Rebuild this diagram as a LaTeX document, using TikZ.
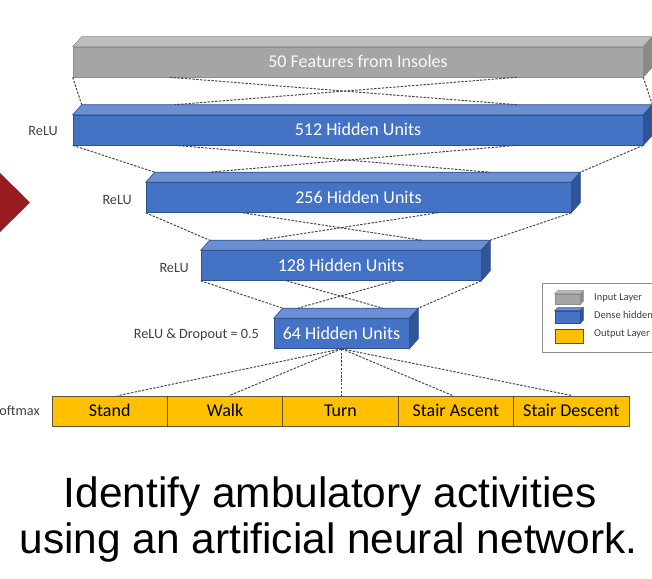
\documentclass[tikz,border=0pt]{standalone}
\usepackage{fontspec}
\setmainfont{Carlito}
\newfontfamily\capfont{Liberation Sans}
\usetikzlibrary{calc}
\definecolor{blueF}{HTML}{4472C4}
\definecolor{blueT}{HTML}{6B8FD2}
\definecolor{blueS}{HTML}{2F5597}
\definecolor{blueB}{HTML}{2F528F}
\definecolor{grayF}{HTML}{A5A5A5}
\definecolor{grayT}{HTML}{BEBEBE}
\definecolor{grayS}{HTML}{8A8A8A}
\definecolor{grayB}{HTML}{8C8C8C}
\definecolor{yelF}{HTML}{FFC000}
\definecolor{yelB}{HTML}{5E5234}
\definecolor{lbl}{HTML}{404040}
\definecolor{dline}{HTML}{4A4A4A}
\definecolor{darkred}{HTML}{971B1F}
\newcommand\cubefaces[4]{%
  \filldraw[fill=#2T, draw=#2B, line width=0.6pt] (#1.north west) -- ++(#3,-#4) -- ($(#1.north east)+(#3,-#4)$) -- (#1.north east) -- cycle;
  \filldraw[fill=#2S, draw=#2B, line width=0.6pt] (#1.north east) -- ++(#3,-#4) -- ($(#1.south east)+(#3,-#4)$) -- (#1.south east) -- cycle;
  \coordinate (#1-tl) at ($(#1.north west)+(#3,-#4)$);
  \coordinate (#1-tr) at ($(#1.north east)+(#3,-#4)$);
}
\begin{document}
\begin{tikzpicture}[x=1pt,y=-1pt,
  front/.style={draw=#1B, fill=#1F, line width=0.6pt, minimum height=30pt, inner sep=0pt,
    font=\fontsize{18}{20}\selectfont, text height=11.6pt, text depth=0pt},
  outcell/.style={draw=yelB, fill=yelF, line width=0.7pt, minimum height=30pt, minimum width=115.4pt,
    inner sep=0pt, font=\fontsize{18}{20}\selectfont, text=black, text height=11.6pt, text depth=0pt},
  lab/.style={font=\fontsize{14.2}{16}\selectfont, text=lbl, inner sep=0pt},
  legtxt/.style={font=\fontsize{10.5}{12}\selectfont, text=lbl, inner sep=0pt, anchor=west},
  dl/.style={draw=dline, line width=1pt, dash pattern=on 2.4pt off 1.4pt},
  captext/.style={font=\capfont\fontsize{42.4}{47}\selectfont, text=black, inner sep=0pt}]
\useasboundingbox (0,0) rectangle (652,578);
\clip (0,0) rectangle (652,578);
\fill[white] (0,0) rectangle (652,578);

% red arrow head on the left
\fill[darkred] (-3,170) -- (30,202.5) -- (-3,235) -- cycle;

% layers
\node[front=gray, minimum width=570pt, text=white!95!gray] (in) at (358,62) {50 Features from Insoles};
\cubefaces{in}{gray}{9}{10}
\node[front=blue, minimum width=570pt, text=white] (h1) at (358,130) {512 Hidden Units};
\cubefaces{h1}{blue}{9}{10}
\node[front=blue, minimum width=425pt, text=white] (h2) at (358.5,197.5) {256 Hidden Units};
\cubefaces{h2}{blue}{9}{10}
\node[front=blue, minimum width=280pt, text=white] (h3) at (341,265.5) {128 Hidden Units};
\cubefaces{h3}{blue}{9}{10}
\node[front=blue, minimum width=135pt, text=white] (h4) at (341.5,333.5) {64 Hidden Units};
\cubefaces{h4}{blue}{9}{10}

% output layer
\node[outcell] (o1) at (109.7,411) {Stand};
\node[outcell] (o2) at (225.1,411) {Walk};
\node[outcell] (o3) at (340.5,411) {Turn};
\node[outcell] (o4) at (455.9,411) {Stair Ascent};
\node[outcell] (o5) at (571.3,411) {Stair Descent};

% labels
\node[lab, anchor=base east] (l1) at (58,135.6) {ReLU};
\node[lab, anchor=base east] (l2) at (132,204.6) {ReLU};
\node[lab, anchor=base east] (l3) at (189,272.6) {ReLU};
\node[lab, anchor=base east] (l4) at (259,338.6) {ReLU \& Dropout = 0.5};
\node[lab, anchor=base east] (l5) at (40,415.6) {Softmax};

% dashed connections: input -> 512
\draw[dl] (in.south west) -- (h1-tl);
\draw[dl] (in.south east) -- (h1-tr);
\draw[dl] ([xshift=97pt]in.south west) -- ([xshift=435pt]h1-tl);
\draw[dl] ([xshift=444pt]in.south west) -- ([xshift=93pt]h1-tl);
% 512 -> 256
\draw[dl] (h1.south west) -- (h2-tl);
\draw[dl] (h1.south east) -- (h2-tr);
\draw[dl] ([xshift=102pt]h1.south west) -- ([xshift=335pt]h2-tl);
\draw[dl] ([xshift=444pt]h1.south west) -- ([xshift=55pt]h2-tl);
% 256 -> 128
\draw[dl] (h2.south west) -- (h3-tl);
\draw[dl] (h2.south east) -- (h3-tr);
\draw[dl] ([xshift=97pt]h2.south west) -- ([xshift=212pt]h3-tl);
\draw[dl] ([xshift=292pt]h2.south west) -- ([xshift=50pt]h3-tl);
% 128 -> 64
\draw[dl] (h3.south west) -- (h4-tl);
\draw[dl] (h3.south east) -- (h4-tr);
\draw[dl] ([xshift=86pt]h3.south west) -- ([xshift=100pt]h4-tl);
\draw[dl] ([xshift=194pt]h3.south west) -- ([xshift=15pt]h4-tl);
% 64 -> outputs
\draw[dl] (h4.south) -- ([xshift=8pt]o1.north);
\draw[dl] (h4.south) -- ([xshift=4pt]o2.north);
\draw[dl] (h4.south) -- ([xshift=1pt]o3.north);
\draw[dl] (h4.south) -- ([xshift=-3pt]o4.north);
\draw[dl] (h4.south) -- ([xshift=1pt]o5.north);

% legend
\draw[draw=grayB, line width=0.9pt, fill=white] (542,283) rectangle (720,352);
\node[draw=grayB, fill=grayF, line width=0.5pt, minimum width=25pt, minimum height=10pt, inner sep=0pt] (k1) at (567.5,299) {};
\cubefaces{k1}{gray}{3}{3}
\node[draw=blueB, fill=blueF, line width=0.5pt, minimum width=25pt, minimum height=12pt, inner sep=0pt] (k2) at (567.5,317) {};
\cubefaces{k2}{blue}{3}{3}
\node[draw=yelB, fill=yelF, line width=0.5pt, minimum width=28pt, minimum height=14pt, inner sep=0pt] (k3) at (569,336) {};
\node[legtxt] (t1) at (594,298) {Input Layer};
\node[legtxt] (t2) at (594,316) {Dense hidden layer};
\node[legtxt] (t3) at (594,334) {Output Layer};

% caption
\node[captext, anchor=base] (c1) at (330,507) {Identify ambulatory activities};
\node[captext, anchor=base] (c2) at (328.5,553) {using an artificial neural network.};
\end{tikzpicture}
\end{document}
